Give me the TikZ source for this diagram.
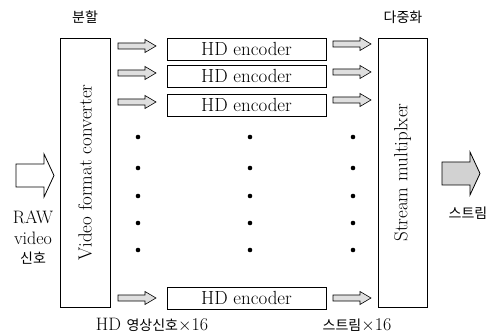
\documentclass[tikz,border=0pt]{standalone}
\usepackage{fontspec}
\newfontfamily\kr{Noto Sans CJK KR}
\begin{document}
\begin{tikzpicture}[x=1pt,y=-1pt,
 box/.style={draw, line width=0.7pt, inner sep=0pt},
 enc/.style={box, minimum width=159pt, minimum height=22pt, font=\fontsize{19}{21}\selectfont},
 tall/.style={box, rotate=90, minimum width=269pt, font=\fontsize{19}{21}\selectfont},
 sarrow/.style={draw, line width=0.6pt, fill=gray!25},
 barrow/.style={draw, line width=0.8pt},
 dotm/.style={circle, fill, inner sep=0pt, minimum size=4.6pt},
 lab/.style={font=\fontsize{18}{20}\selectfont, inner sep=0pt},
 kor/.style={font=\kr\fontsize{14}{16}\selectfont, inner sep=0pt}]
\useasboundingbox (0,0) rectangle (502,336);

% main boxes
\node[tall, minimum height=50pt] (conv) at (85,172.5) {Video format converter};
\node[tall, minimum height=49pt] (mux) at (402.5,172.5) {Stream multiplxer};

% encoders
\node[enc] (e1) at (246.5,49) {HD encoder};
\node[enc] (e2) at (246.5,76) {HD encoder};
\node[enc] (e3) at (246.5,105) {HD encoder};
\node[enc] (e16) at (246.5,298) {HD encoder};

% small block arrows
\foreach \yy in {46,73,102,298}{
  \draw[sarrow, shift={(118,\yy)}] (0,-3) -- (27,-3) -- (27,-6.5) -- (38,0) -- (27,6.5) -- (27,3) -- (0,3) -- cycle;
}
\foreach \yy in {44,72,100,298}{
  \draw[sarrow, shift={(333,\yy)}] (0,-3) -- (27,-3) -- (27,-6.5) -- (38,0) -- (27,6.5) -- (27,3) -- (0,3) -- cycle;
}

% big arrows
\draw[barrow, fill=white] (16,164) -- (44,164) -- (44,154) -- (54,175.5) -- (44,197) -- (44,187) -- (16,187) -- cycle;
\draw[barrow, fill=gray!35] (442,162) -- (470,162) -- (470,152) -- (480,173.5) -- (470,195) -- (470,185) -- (442,185) -- cycle;

% dots
\foreach \xx in {138,250,353}{
  \foreach \yy [count=\i] in {137,168,196,223,250}{
    \node[dotm] (d\xx-\i) at (\xx,\yy) {};
  }
}

% labels
\node[kor] (l1) at (85,17) {분할};
\node[kor] (l2) at (403,17) {다중화};
\node[lab] (raw) at (33,217) {RAW};
\node[lab] (vid) at (33,238) {video};
\node[kor] (sig) at (33,258) {신호};
\node[lab] (hd) at (152,325) {HD {\kr\fontsize{14}{16}\selectfont 영상신호}$\times$16};
\node[lab] (st16) at (357,325) {{\kr\fontsize{14}{16}\selectfont 스트림}$\times$16};
\node[kor] (st) at (468,213) {스트림};
\end{tikzpicture}
\end{document}
